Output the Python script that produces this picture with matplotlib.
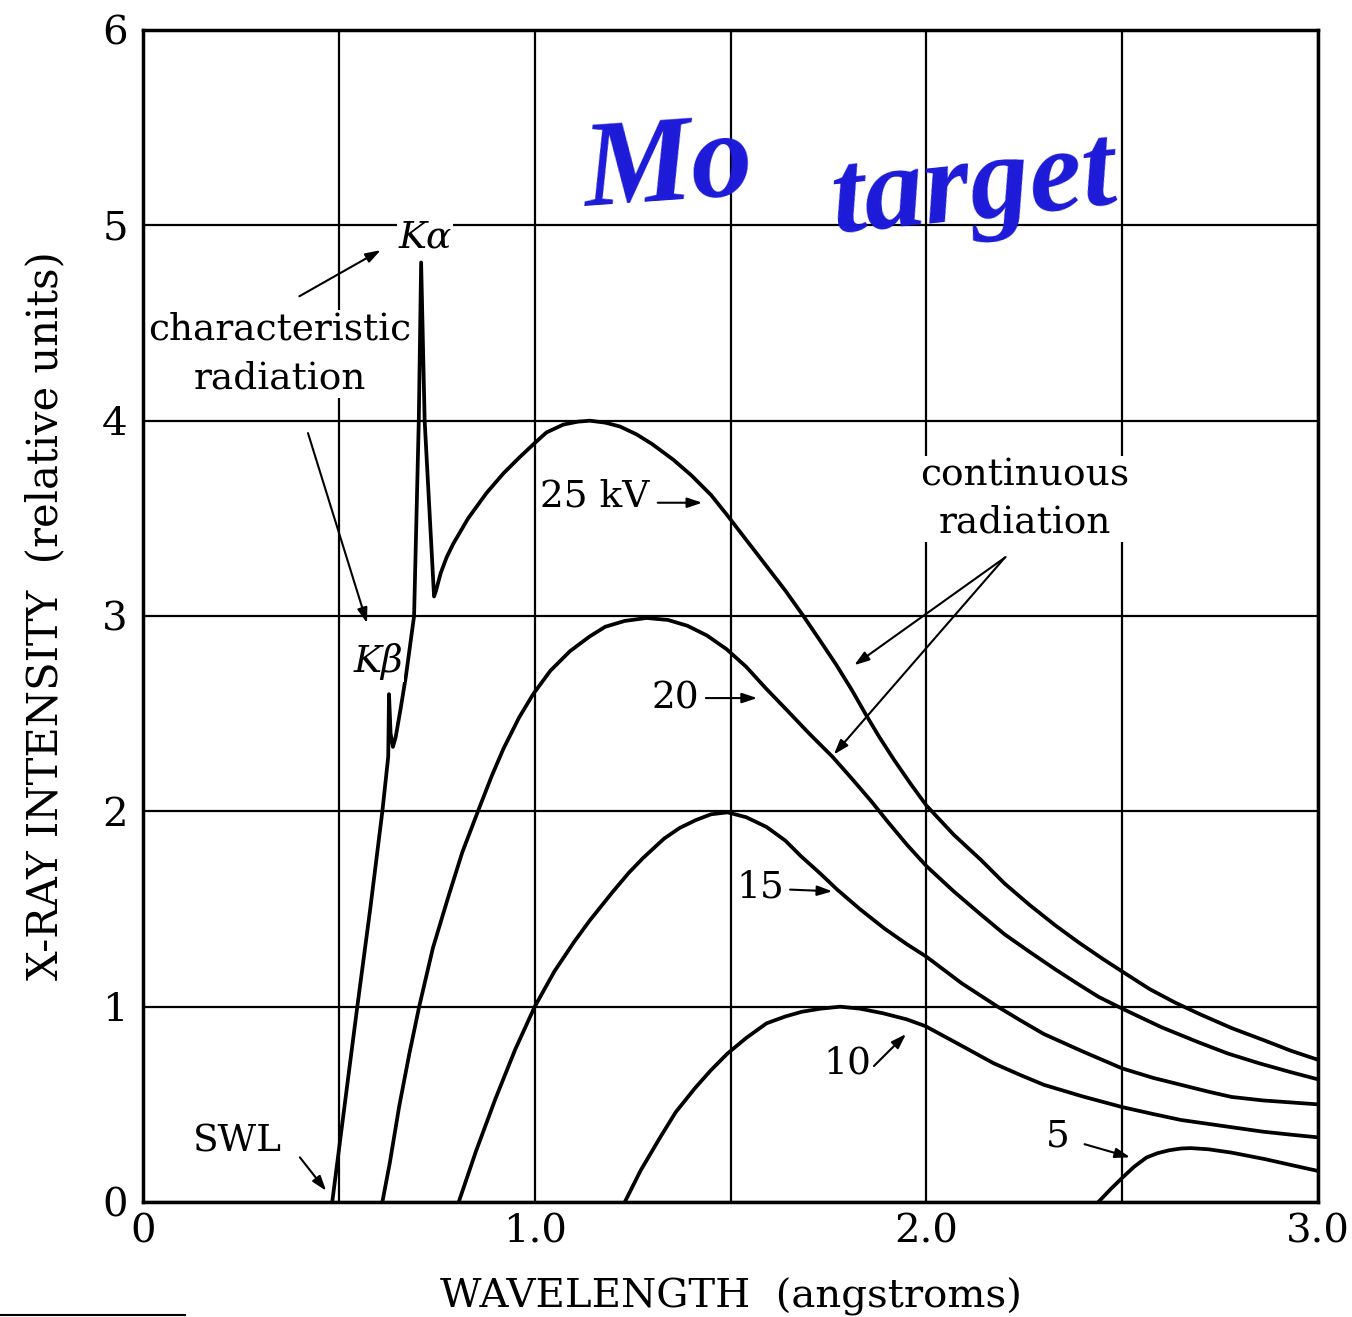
import numpy as np
import matplotlib
matplotlib.use("Agg")
import matplotlib.pyplot as plt

plt.rcParams['font.family'] = ['DejaVu Serif']

# spectra (wavelength in angstroms, intensity in relative units)
kv25_x = [0.483, 0.515, 0.547, 0.58, 0.611, 0.626, 0.628, 0.632, 0.638, 0.645,
          0.658, 0.671, 0.692, 0.704, 0.710, 0.719, 0.743, 0.748, 0.76, 0.775,
          0.792, 0.83, 0.877, 0.92, 0.96, 0.997, 1.03, 1.073, 1.11, 1.141,
          1.18, 1.218, 1.26, 1.30, 1.354, 1.40, 1.45, 1.49, 1.54, 1.59,
          1.64, 1.686, 1.73, 1.77, 1.81, 1.847, 1.88, 1.917, 1.96, 2.0,
          2.07, 2.14, 2.2, 2.264, 2.33, 2.388, 2.45, 2.5, 2.57, 2.636,
          2.7, 2.78, 2.866, 2.93, 3.0]
kv25_y = [0.0, 0.5, 1.0, 1.5, 2.0, 2.28, 2.60, 2.40, 2.33, 2.38,
          2.53, 2.69, 3.0, 4.0, 4.81, 4.0, 3.10, 3.13, 3.22, 3.30,
          3.37, 3.50, 3.63, 3.73, 3.81, 3.88, 3.94, 3.98, 3.995, 4.0,
          3.99, 3.97, 3.93, 3.88, 3.80, 3.72, 3.62, 3.52, 3.39, 3.26,
          3.13, 3.0, 2.87, 2.75, 2.62, 2.49, 2.38, 2.265, 2.14, 2.03,
          1.88, 1.75, 1.63, 1.52, 1.415, 1.33, 1.245, 1.18, 1.09, 1.02,
          0.96, 0.89, 0.825, 0.775, 0.728]

kv20_x = [0.611, 0.63, 0.654, 0.68, 0.705, 0.74, 0.779, 0.815, 0.855, 0.89,
          0.92, 0.96, 0.996, 1.04, 1.09, 1.14, 1.18, 1.23, 1.286, 1.34,
          1.39, 1.44, 1.49, 1.54, 1.59, 1.643, 1.70, 1.76, 1.813, 1.86,
          1.90, 1.95, 2.0, 2.07, 2.14, 2.2, 2.264, 2.33, 2.388, 2.44,
          2.5, 2.6, 2.692, 2.77, 2.85, 2.93, 3.0]
kv20_y = [0.0, 0.2, 0.49, 0.76, 1.0, 1.30, 1.56, 1.79, 2.0, 2.18,
          2.32, 2.48, 2.60, 2.72, 2.82, 2.895, 2.945, 2.975, 2.99, 2.98,
          2.95, 2.90, 2.83, 2.74, 2.63, 2.52, 2.40, 2.28, 2.16, 2.05,
          1.95, 1.83, 1.72, 1.59, 1.47, 1.37, 1.28, 1.19, 1.115, 1.05,
          0.99, 0.895, 0.82, 0.76, 0.71, 0.665, 0.628]

kv15_x = [0.806, 0.85, 0.90, 0.95, 1.0, 1.05, 1.10, 1.14, 1.20, 1.24,
          1.276, 1.33, 1.37, 1.411, 1.45, 1.492, 1.54, 1.592, 1.64, 1.68,
          1.73, 1.772, 1.83, 1.893, 1.95, 2.0, 2.09, 2.182, 2.24, 2.30,
          2.4, 2.5, 2.58, 2.65, 2.72, 2.779, 2.86, 2.93, 3.0]
kv15_y = [0.0, 0.26, 0.53, 0.78, 1.0, 1.18, 1.33, 1.44, 1.59, 1.685,
          1.76, 1.86, 1.915, 1.955, 1.985, 1.995, 1.97, 1.92, 1.85, 1.77,
          1.68, 1.60, 1.50, 1.40, 1.32, 1.256, 1.12, 1.0, 0.93, 0.86,
          0.77, 0.684, 0.635, 0.60, 0.565, 0.538, 0.52, 0.51, 0.50]

kv10_x = [1.23, 1.27, 1.32, 1.36, 1.41, 1.45, 1.492, 1.54, 1.592, 1.64,
          1.682, 1.73, 1.78, 1.83, 1.89, 1.95, 1.998, 2.09, 2.172, 2.24,
          2.3, 2.4, 2.5, 2.58, 2.65, 2.72, 2.779, 2.86, 2.93, 3.0]
kv10_y = [0.0, 0.16, 0.33, 0.46, 0.585, 0.675, 0.76, 0.84, 0.915, 0.95,
          0.974, 0.99, 1.0, 0.99, 0.966, 0.935, 0.90, 0.80, 0.71, 0.65,
          0.60, 0.54, 0.486, 0.45, 0.42, 0.40, 0.383, 0.36, 0.345, 0.331]

kv5_x = [2.439, 2.47, 2.5, 2.53, 2.562, 2.59, 2.62, 2.65, 2.675, 2.72,
         2.779, 2.866, 2.93, 3.0]
kv5_y = [0.0, 0.065, 0.124, 0.18, 0.228, 0.25, 0.265, 0.274, 0.276, 0.27,
         0.253, 0.219, 0.19, 0.159]

x_ticks = [0, 1, 2, 3]
x_ticklabels = ["0", "1.0", "2.0", "3.0"]
y_ticks = [0, 1, 2, 3, 4, 5, 6]

fig = plt.figure(figsize=(13.52, 13.17), dpi=100)
ax = fig.add_axes([0.1058, 0.0873, 0.8691, 0.8899])

for xs, ys in [(kv25_x, kv25_y), (kv20_x, kv20_y), (kv15_x, kv15_y),
               (kv10_x, kv10_y), (kv5_x, kv5_y)]:
    ax.plot(xs, ys, color="black", lw=2.7, solid_joinstyle="round", zorder=3)

ax.set_xlim(0, 3.0)
ax.set_ylim(0, 6)
ax.set_xticks(x_ticks)
ax.set_xticklabels(x_ticklabels)
ax.set_xticks([0.5, 1.5, 2.5], minor=True)
ax.set_yticks(y_ticks)
ax.grid(which="both", color="black", lw=1.6, zorder=1)
ax.tick_params(which="both", length=0, labelsize=29)
ax.tick_params(axis="y", pad=11)
ax.tick_params(axis="x", pad=8)
for s in ax.spines.values():
    s.set_linewidth(2.5)

ax.set_xlabel("WAVELENGTH  (angstroms)", fontsize=29, labelpad=20)
ax.set_ylabel("X-RAY INTENSITY  (relative units)", fontsize=30, labelpad=26)

box = dict(facecolor="white", edgecolor="none", pad=1)
txt = dict(fontsize=27, ha="center", va="center", bbox=box, zorder=4)
arr = dict(arrowstyle="-|>,head_length=0.9,head_width=0.3", color="black", lw=1.5)

ax.text(0.72, 4.94, "Kα", style="italic", **txt)
ax.text(0.35, 4.34, "characteristic\nradiation", linespacing=1.45, **txt)
ax.text(0.60, 2.765, "Kβ", style="italic", **txt)
ax.text(1.154, 3.61, "25 kV", **txt)
ax.text(1.358, 2.58, "20", **txt)
ax.text(1.575, 1.61, "15", **txt)
ax.text(1.797, 0.71, "10", **txt)
ax.text(2.336, 0.333, "5", **txt)
ax.text(0.24, 0.31, "SWL", **txt)
ax.text(2.252, 3.60, "continuous\nradiation", linespacing=1.4, **txt)

ax.annotate("", xy=(0.613, 4.88), xytext=(0.393, 4.63), arrowprops=arr)
ax.annotate("", xy=(0.574, 2.95), xytext=(0.419, 3.95), arrowprops=arr)
ax.annotate("", xy=(0.472, 0.046), xytext=(0.396, 0.24), arrowprops=arr)
ax.annotate("", xy=(1.435, 3.58), xytext=(1.307, 3.58), arrowprops=arr)
ax.annotate("", xy=(1.575, 2.58), xytext=(1.43, 2.58), arrowprops=arr)
ax.annotate("", xy=(1.767, 1.59), xytext=(1.645, 1.60), arrowprops=arr)
ax.annotate("", xy=(1.953, 0.87), xytext=(1.861, 0.686), arrowprops=arr)
ax.annotate("", xy=(2.527, 0.225), xytext=(2.397, 0.30), arrowprops=arr)
ax.annotate("", xy=(1.81, 2.74), xytext=(2.208, 3.31), arrowprops=arr)
ax.annotate("", xy=(1.759, 2.28), xytext=(2.205, 3.31), arrowprops=arr)

# handwritten note
ax.text(1.34, 5.28, "Mo", color="#1c1ad8", fontsize=88, style="italic",
        weight="bold", family="Liberation Serif", ha="center", va="center",
        rotation=4, zorder=5)
ax.text(2.12, 5.18, "target", color="#1c1ad8", fontsize=86, style="italic",
        weight="bold", family="Liberation Serif", ha="center", va="center",
        rotation=6, zorder=5)

fig.add_artist(plt.Line2D([0, 0.137], [0.0015, 0.0015], color="black", lw=1.5))

fig.savefig("out.png", dpi=100)
